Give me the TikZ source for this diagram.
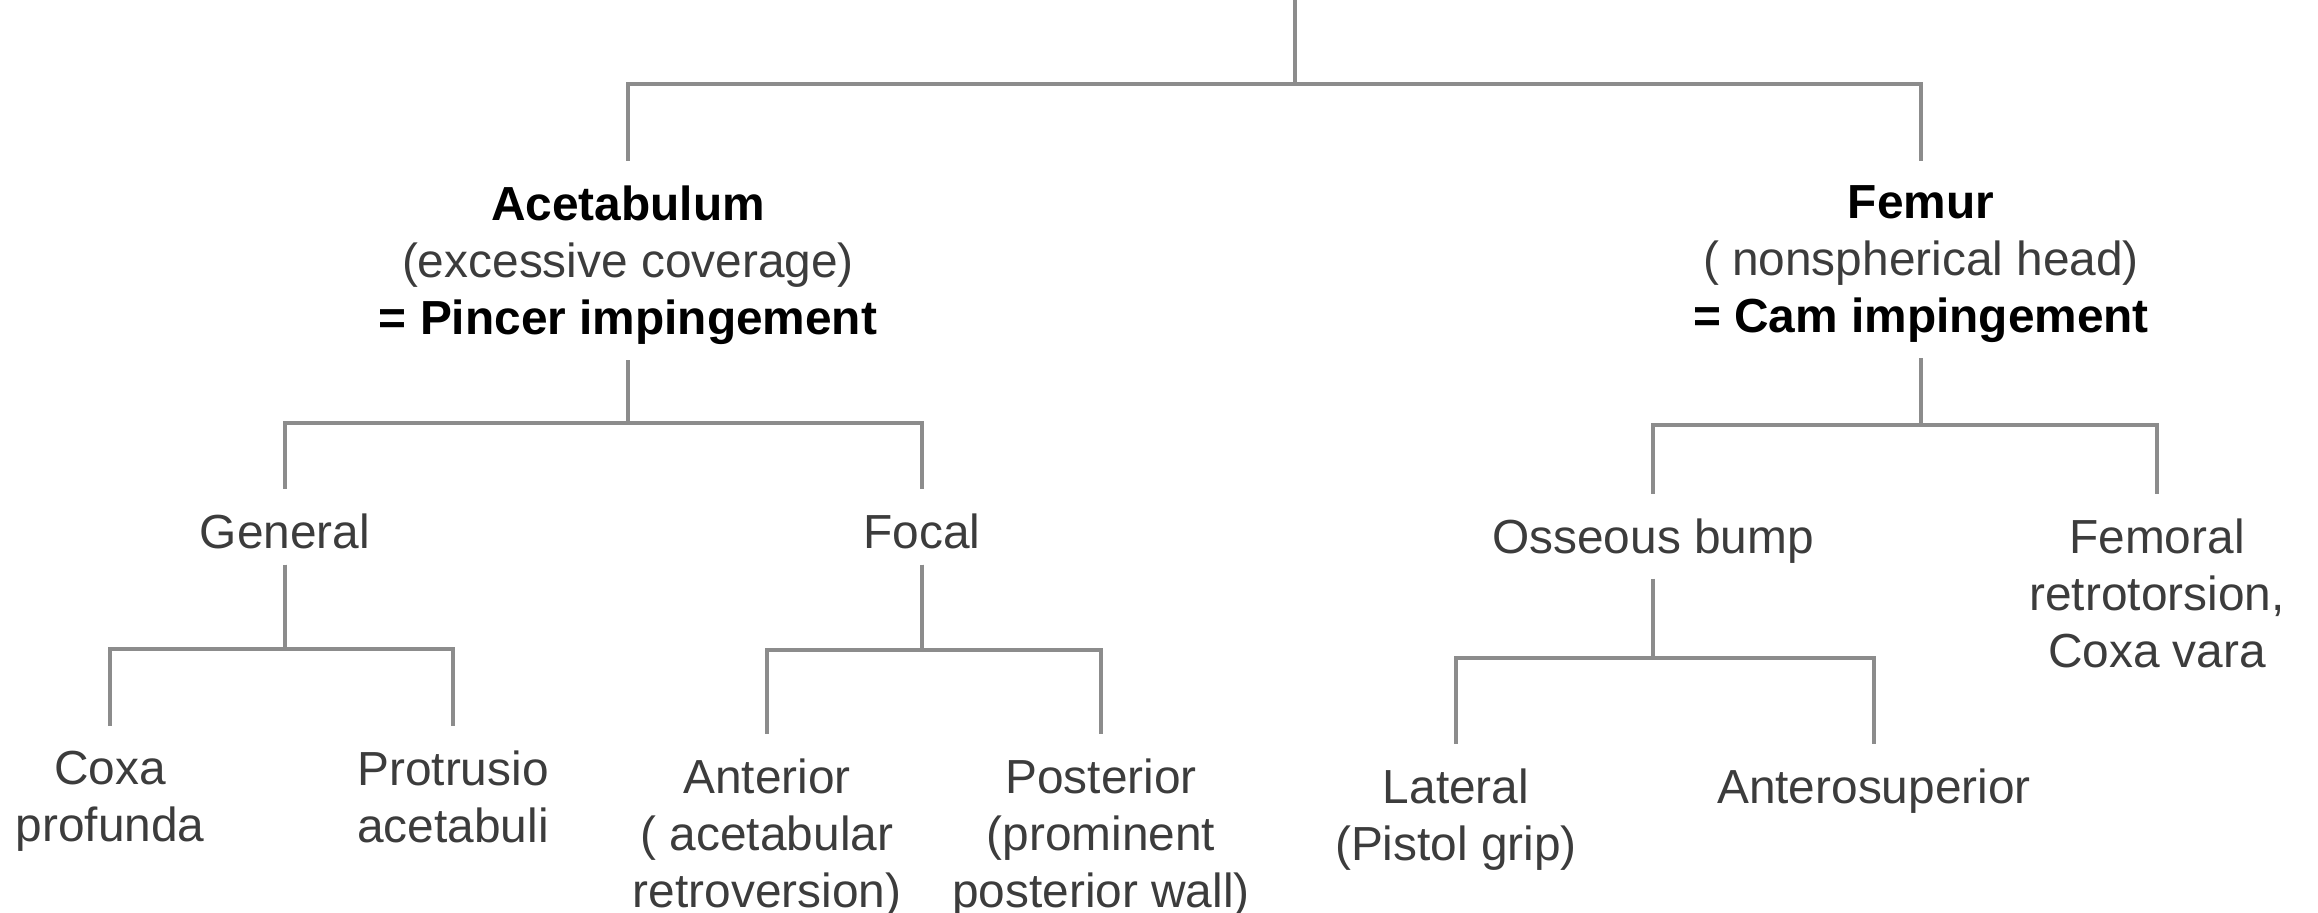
\documentclass[tikz,border=0pt]{standalone}
\usepackage{fontspec}
\setmainfont{Liberation Sans}
\usepackage{xcolor}
\usepackage{tikz}
\usetikzlibrary{positioning,calc}
\definecolor{linegray}{RGB}{140,140,140}
\definecolor{txtgray}{RGB}{60,60,60}

\begin{document}
\begin{tikzpicture}[x=0.01cm,y=-0.01cm,
    every node/.style={inner sep=0pt,align=center,anchor=north,font=\fontsize{13.6}{16.2}\selectfont},
    leaf/.style={text=txtgray},
    link/.style={draw=linegray,line width=0.9pt,shorten <=0.15cm,shorten >=0.24cm}]
    \useasboundingbox (0,0) rectangle (2318,913);
    \coordinate (root) at (1295,0);

    % Level 1: the two sides of the joint
    \node (acet) at (628,185) {\textbf{Acetabulum}\\{\color{txtgray}(excessive coverage)}\\\textbf{= Pincer impingement}};
    \node (femur) at (1921,185) {\textbf{Femur}\\{\color{txtgray}( nonspherical head)}\\\textbf{= Cam impingement}};

    % Level 2
    \node[leaf] (general) at (285,513) {General};
    \node[leaf] (focal) at (922,513) {Focal};
    \node[leaf] (bump) at (1653,518) {Osseous bump};
    \node[leaf] (femoral) at (2157,518) {Femoral\\retrotorsion,\\Coxa vara};

    % Level 3
    \node[leaf] (coxa) at (110,750) {Coxa\\profunda};
    \node[leaf] (protrusio) at (453,750) {Protrusio\\acetabuli};
    \node[leaf] (anterior) at (767,758) {Anterior\\( acetabular\\retroversion)};
    \node[leaf] (posterior) at (1101,758) {Posterior\\(prominent\\posterior wall)};
    \node[leaf] (lateral) at (1456,768) {Lateral\\(Pistol grip)};
    \node[leaf] (antsup) at (1874,768) {Anterosuperior};

    % Connectors
    \draw[link,shorten <=0pt] (root) -- (root |- 0,84) -| (acet.north);
    \draw[link,shorten <=0pt] (root) -- (root |- 0,84) -| (femur.north);
    \draw[link] (acet.south) -- (acet.south |- 0,423) -| (general.north);
    \draw[link] (acet.south) -- (acet.south |- 0,423) -| (focal.north);
    \draw[link] (femur.south) -- (femur.south |- 0,425) -| (bump.north);
    \draw[link] (femur.south) -- (femur.south |- 0,425) -| (femoral.north);
    \draw[link] (general.south) -- (general.south |- 0,649) -| (coxa.north);
    \draw[link] (general.south) -- (general.south |- 0,649) -| (protrusio.north);
    \draw[link] (focal.south) -- (focal.south |- 0,650) -| (anterior.north);
    \draw[link] (focal.south) -- (focal.south |- 0,650) -| (posterior.north);
    \draw[link] (bump.south) -- (bump.south |- 0,658) -| (lateral.north);
    \draw[link] (bump.south) -- (bump.south |- 0,658) -| (antsup.north);
\end{tikzpicture}
\end{document}
